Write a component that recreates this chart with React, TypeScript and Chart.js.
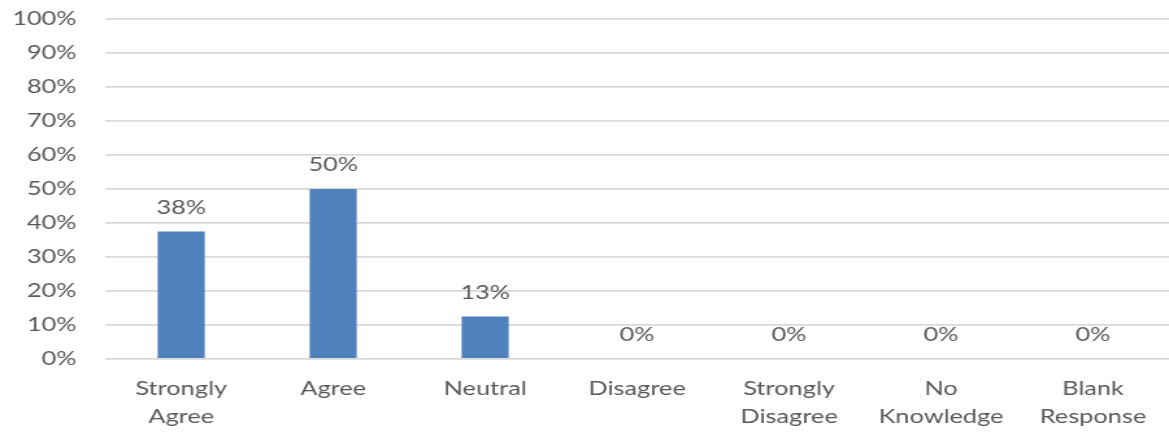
import React, { useEffect, useRef } from "react";
import { Chart, registerables } from "chart.js";

Chart.register(...registerables);

const categories: string[][] = [
  ["Strongly", "Agree"],
  ["Agree"],
  ["Neutral"],
  ["Disagree"],
  ["Strongly", "Disagree"],
  ["No", "Knowledge"],
  ["Blank", "Response"],
];
const shares: number[] = [0.375, 0.5, 0.125, 0, 0, 0, 0];
const yTickValues: number[] = [0, 0.1, 0.2, 0.3, 0.4, 0.5, 0.6, 0.7, 0.8, 0.9, 1];

const PAGE_W = 1169;
const PAGE_H = 435;
const INNER_W = 900;
const STRETCH = PAGE_W / INNER_W;
const FONT_FAMILY = "Lato, 'Open Sans', sans-serif";
const FONT_SIZE = 19.5;
const TEXT_COLOR = "#595959";

const valueLabels = {
  id: "valueLabels",
  afterDatasetsDraw(chart: any) {
    const ctx = chart.ctx;
    const meta = chart.getDatasetMeta(0);
    const data = chart.data.datasets[0].data as number[];
    ctx.save();
    ctx.font = `${FONT_SIZE}px ${FONT_FAMILY}`;
    ctx.fillStyle = TEXT_COLOR;
    ctx.textAlign = "center";
    ctx.textBaseline = "alphabetic";
    meta.data.forEach((el: any, i: number) => {
      const txt = Math.round(data[i] * 100) + "%";
      ctx.fillText(txt, el.x, el.y - 18);
    });
    ctx.restore();
  },
};

export default function App() {
  const ref = useRef<HTMLCanvasElement | null>(null);

  useEffect(() => {
    document.body.style.margin = "0";
    if (!ref.current) return;
    const chart = new Chart(ref.current, {
      type: "bar",
      data: {
        labels: categories,
        datasets: [
          {
            data: shares,
            backgroundColor: "#4f81bd",
            borderWidth: 0,
            barPercentage: 0.31,
            categoryPercentage: 1,
          },
        ],
      },
      plugins: [valueLabels],
      options: {
        animation: false,
        responsive: false,
        devicePixelRatio: 1,
        layout: { padding: { top: 19, left: 0, right: 0, bottom: 0 } },
        plugins: {
          legend: { display: false },
          tooltip: { enabled: false },
          title: { display: false },
        },
        scales: {
          x: {
            grid: { display: false, drawTicks: false },
            border: { display: false },
            ticks: {
              padding: 16,
              color: TEXT_COLOR,
              font: { family: FONT_FAMILY, size: FONT_SIZE, lineHeight: 1.44 },
              maxRotation: 0,
              autoSkip: false,
            },
            afterFit(scale: any) {
              scale.height = 76;
              scale.paddingLeft = 0;
              scale.paddingRight = 0;
            },
          },
          y: {
            min: 0,
            max: 1,
            afterBuildTicks(scale: any) {
              scale.ticks = yTickValues.map((v) => ({ value: v }));
            },
            grid: { color: "#d9d9d9", lineWidth: 1.8, drawTicks: false },
            border: { display: false },
            ticks: {
              padding: 22,
              color: TEXT_COLOR,
              font: { family: FONT_FAMILY, size: FONT_SIZE },
              callback: (v: any) => Math.round(Number(v) * 100) + "%",
            },
            afterFit(scale: any) {
              scale.width = 81;
              scale.paddingTop = 0;
              scale.paddingBottom = 0;
            },
          },
        },
      },
    });
    return () => chart.destroy();
  }, []);

  return (
    <div
      style={{
        position: "absolute",
        left: 0,
        top: 0,
        width: PAGE_W,
        height: PAGE_H,
        overflow: "hidden",
        background: "#ffffff",
      }}
    >
      <div
        style={{
          width: INNER_W,
          height: PAGE_H,
          transform: `scaleX(${STRETCH})`,
          transformOrigin: "0 0",
        }}
      >
        <canvas ref={ref} width={INNER_W} height={PAGE_H} style={{ display: "block" }} />
      </div>
    </div>
  );
}
